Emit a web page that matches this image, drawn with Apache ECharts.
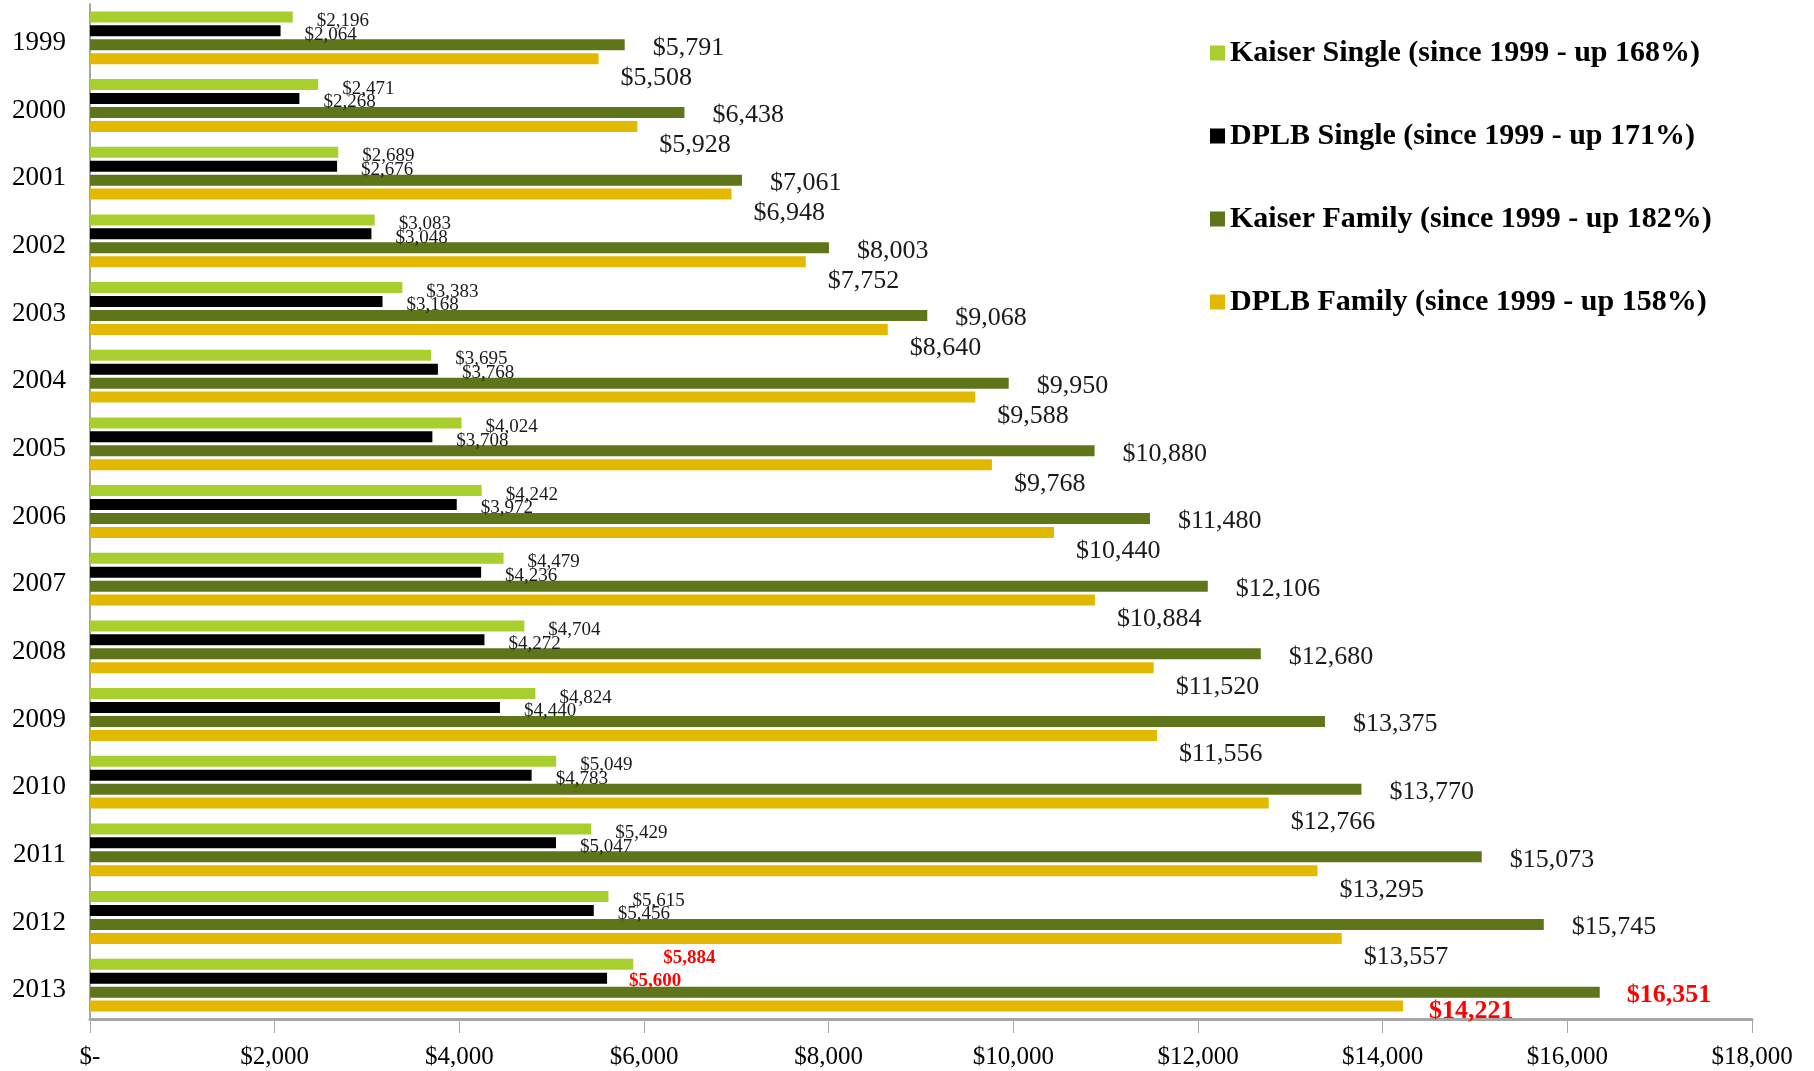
<!DOCTYPE html>
<html>
<head>
<meta charset="utf-8">
<script src="https://cdn.jsdelivr.net/npm/echarts@6/dist/echarts.min.js"></script>
<style>
  html, body { margin: 0; padding: 0; background: #fff; }
  #chart { width: 1814px; height: 1071px; }
</style>
</head>
<body>
<div id="chart"></div>
<script>
// 年份
var years = ["1999", "2000", "2001", "2002", "2003", "2004", "2005", "2006", "2007", "2008", "2009", "2010", "2011", "2012", "2013"];
// 四组数据
var kaiserSingle = [2196, 2471, 2689, 3083, 3383, 3695, 4024, 4242, 4479, 4704, 4824, 5049, 5429, 5615, 5884];
var dplbSingle = [2064, 2268, 2676, 3048, 3168, 3768, 3708, 3972, 4236, 4272, 4440, 4783, 5047, 5456, 5600];
var kaiserFamily = [5791, 6438, 7061, 8003, 9068, 9950, 10880, 11480, 12106, 12680, 13375, 13770, 15073, 15745, 16351];
var dplbFamily = [5508, 5928, 6948, 7752, 8640, 9588, 9768, 10440, 10884, 11520, 11556, 12766, 13295, 13557, 14221];
var seriesNames = [
	"Kaiser Single (since 1999 - up 168%)",
	"DPLB Single (since 1999 - up 171%)",
	"Kaiser Family (since 1999 - up 182%)",
	"DPLB Family (since 1999 - up 158%)"
];

(function () {
	var myChart = echarts.init(document.getElementById("chart"));
	var font = "'Liberation Serif', 'DejaVu Serif', serif";

	function money(v) {
		if (v === 0) return "$-";
		return "$" + v.toString().replace(/\B(?=(\d{3})+(?!\d))/g, ",");
	}

	// 最后一年 (2013) 的标签为红色粗体
	function withHighlight(arr, lastOffset) {
		return arr.map(function (v, i) {
			if (i === arr.length - 1) {
				return { value: v, label: { color: "#ff0000", fontWeight: "bold", offset: lastOffset } };
			}
			return v;
		});
	}

	function makeSeries(name, data, color, fontSize, offset, lastOffset) {
		return {
			name: name,
			type: "bar",
			barWidth: 11,
			barGap: "27%",
			data: withHighlight(data, lastOffset),
			itemStyle: { color: color },
			label: {
				show: true,
				position: "right",
				distance: 0,
				offset: offset,
				fontFamily: font,
				fontSize: fontSize,
				color: "#1a1a1a",
				formatter: function (p) { return money(p.value); }
			}
		};
	}

	var option = {
		animation: false,
		grid: {
			left: 90,
			right: 62,
			top: 4,
			bottom: 52
		},
		legend: {
			orient: "vertical",
			left: 1205,
			top: 31,
			itemWidth: 15,
			itemHeight: 15,
			itemGap: 49,
			icon: "rect",
			textStyle: {
				fontFamily: font,
				fontSize: 30,
				fontWeight: "bold",
				color: "#000",
				lineHeight: 34
			}
		},
		xAxis: {
			type: "value",
			min: 0,
			max: 18000,
			interval: 2000,
			axisLine: { show: true, lineStyle: { color: "#a6a6a6", width: 3 } },
			axisTick: { show: true, length: 14, lineStyle: { color: "#a6a6a6", width: 1 } },
			splitLine: { show: false },
			axisLabel: {
				margin: 26,
				fontFamily: font,
				fontSize: 25,
				color: "#000",
				formatter: money
			}
		},
		yAxis: {
			type: "category",
			inverse: true,
			data: years,
			axisLine: { show: true, lineStyle: { color: "#a6a6a6", width: 2 } },
			axisTick: { show: false },
			axisLabel: {
				margin: 24,
				formatter: "{y|{value}}",
				rich: {
					y: {
						padding: [10, 0, 0, 0],
						fontFamily: font,
						fontSize: 27,
						color: "#000"
					}
				}
			}
		},
		series: [
			makeSeries(seriesNames[0], kaiserSingle, "#a9cf2e", 19, [24, 4], [30, -6]),
			makeSeries(seriesNames[1], dplbSingle, "#000000", 19, [24, 4], [22, 3]),
			makeSeries(seriesNames[2], kaiserFamily, "#5e7519", 26, [28, 3], [27, 3]),
			makeSeries(seriesNames[3], dplbFamily, "#e2b900", 26, [22, 19], [26, 5])
		]
	};

	myChart.setOption(option);
	window.addEventListener("resize", function () {
		myChart.resize();
	});
})();
</script>
</body>
</html>
